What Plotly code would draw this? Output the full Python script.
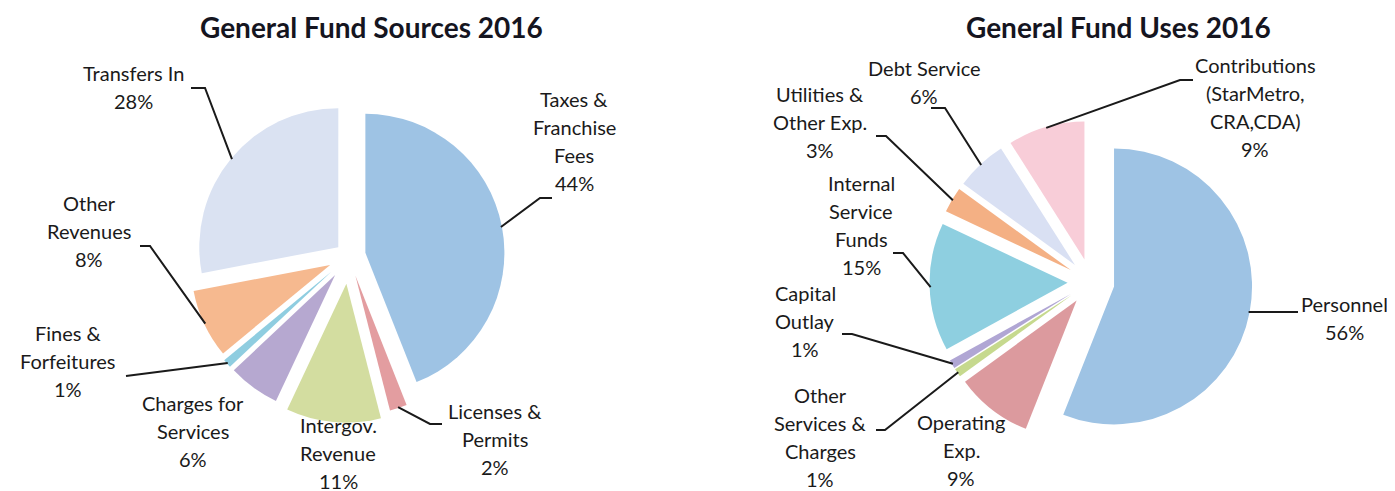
import math
import plotly.graph_objects as go

W, H = 1395, 491

# ---------------- data ----------------
src_labels = ["Taxes & Franchise Fees", "Licenses & Permits", "Intergov. Revenue",
              "Charges for Services", "Fines & Forfeitures", "Other Revenues", "Transfers In"]
src_values = [44, 2, 11, 6, 1, 8, 28]

use_labels = ["Personnel", "Operating Exp.", "Other Services & Charges", "Capital Outlay",
              "Internal Service Funds", "Utilities & Other Exp.", "Debt Service",
              "Contributions (StarMetro, CRA,CDA)"]
use_values = [56, 9, 1, 1, 15, 3, 6, 9]

src_title = "General Fund Sources 2016"
use_title = "General Fund Uses 2016"

# label wrapping as shown on the chart
src_lines = [["Taxes &", "Franchise", "Fees"], ["Licenses &", "Permits"], ["Intergov.", "Revenue"],
             ["Charges for", "Services"], ["Fines &", "Forfeitures"], ["Other", "Revenues"],
             ["Transfers In"]]
use_lines = [["Personnel"], ["Operating", "Exp."], ["Other", "Services &", "Charges"],
             ["Capital", "Outlay"], ["Internal", "Service", "Funds"], ["Utilities &", "Other Exp."],
             ["Debt Service"], ["Contributions", "(StarMetro,", "CRA,CDA)"]]

# ---------------- styles / layout ----------------
src_colors = ["#9ec3e4", "#e39da0", "#d3dda0", "#b6a8d0", "#8fcde0", "#f6b98f", "#dae2f2"]
use_colors = ["#9ec3e4", "#dc9a9e", "#c6d98e", "#b0a6d4", "#8ecfe0", "#f4b084", "#d9e0f3", "#f8cdd8"]

SRC_CENTER, SRC_R = (341, 248), 139
SRC_PULL = [0.12, 0.15, 0.20, 0.17, 0.17, 0.15, 0.10]
USE_CENTER, USE_R = (1083, 274), 138
USE_PULL = [0.17] * 8

TEXT_DY = -8  # visual centre correction for annotation text
SRC_LABEL_POS = [(566, 99), (487, 411), (330, 425), (185, 403), (60, 333), (81, 203), (126, 73)]
SRC_LEADER = [[(544, 190), (532, 190)], [(434, 416), (422, 416)], None, None,
              [(118, 368)], [(132, 238), (142, 238)], [(183, 80), (197, 80)]]
USE_LABEL_POS = [(1336, 304), (953, 422), (812, 395), (797, 293), (853, 183),
                 (812, 94), (916, 68), (1247, 65)]
USE_LEADER = [["h", 1290], None, [(868, 422), (877, 422)], [(834, 326), (844, 326)],
              [(885, 245), (895, 245)], [(868, 128), (878, 128)], [(923, 100), (937, 100)],
              [(1185, 72), (1172, 72)]]

LINE_SP = 28
FONT = "Lato, 'Open Sans', sans-serif"
TEXT_COLOR = "#1a1a1a"
LINE_COLOR = "#1a1a1a"


def px(x):
    return x / W


def py(y):
    return 1 - y / H


def domain(center, r, pulls):
    half = r * (1 + max(pulls))
    cx, cy = center
    return dict(x=[(cx - half) / W, (cx + half) / W], y=[1 - (cy + half) / H, 1 - (cy - half) / H])


def arc_points(values, center, r, pulls):
    total = sum(values)
    pts = []
    acc = 0
    for v, p in zip(values, pulls):
        mid = (acc + v / 2) / total * 2 * math.pi
        acc += v
        d = r * (1 + p) - 1
        pts.append((center[0] + d * math.sin(mid), center[1] - d * math.cos(mid)))
    return pts


fig = go.Figure()
fig.add_trace(go.Pie(labels=src_labels, values=src_values, sort=False, direction="clockwise",
                     rotation=0, pull=SRC_PULL, marker=dict(colors=src_colors, line=dict(width=0)),
                     textinfo="none", hoverinfo="label+percent", showlegend=False,
                     domain=domain(SRC_CENTER, SRC_R, SRC_PULL)))
fig.add_trace(go.Pie(labels=use_labels, values=use_values, sort=False, direction="clockwise",
                     rotation=0, pull=USE_PULL, marker=dict(colors=use_colors, line=dict(width=0)),
                     textinfo="none", hoverinfo="label+percent", showlegend=False,
                     domain=domain(USE_CENTER, USE_R, USE_PULL)))

annotations = []
shapes = []


def add_labels(lines_list, values, positions, leaders, center, r, pulls):
    total = sum(values)
    arcs = arc_points(values, center, r, pulls)
    for lines, v, (cx, y0), lead, arc in zip(lines_list, values, positions, leaders, arcs):
        pct = round(v / total * 100)
        all_lines = lines + [f"{pct}%"]
        for i, t in enumerate(all_lines):
            annotations.append(dict(x=px(cx), y=py(y0 + i * LINE_SP + TEXT_DY),
                                    xref="paper", yref="paper",
                                    text=t, showarrow=False, xanchor="center", yanchor="middle",
                                    font=dict(family=FONT, size=20, color=TEXT_COLOR)))
        if lead is None:
            continue
        if lead[0] == "h":
            pts = [(lead[1], arc[1]), arc]
        else:
            pts = list(lead) + [arc]
        path = "M " + " L ".join(f"{px(a):.5f},{py(b):.5f}" for a, b in pts)
        shapes.append(dict(type="path", path=path, xref="paper", yref="paper",
                           line=dict(color=LINE_COLOR, width=2)))


add_labels(src_lines, src_values, SRC_LABEL_POS, SRC_LEADER, SRC_CENTER, SRC_R, SRC_PULL)
add_labels(use_lines, use_values, USE_LABEL_POS, USE_LEADER, USE_CENTER, USE_R, USE_PULL)

for title, cx in ((src_title, 363), (use_title, 1110)):
    annotations.append(dict(x=px(cx), y=1, xref="paper", yref="paper",
                            text=f"<b>{title}</b>",
                            showarrow=False, xanchor="center", yanchor="top",
                            font=dict(family=FONT, size=28, color="#15151f")))

fig.update_layout(width=W, height=H, margin=dict(l=0, r=0, t=0, b=0),
                  paper_bgcolor="white", plot_bgcolor="white",
                  annotations=annotations, shapes=shapes)

fig.write_html("out.html")
